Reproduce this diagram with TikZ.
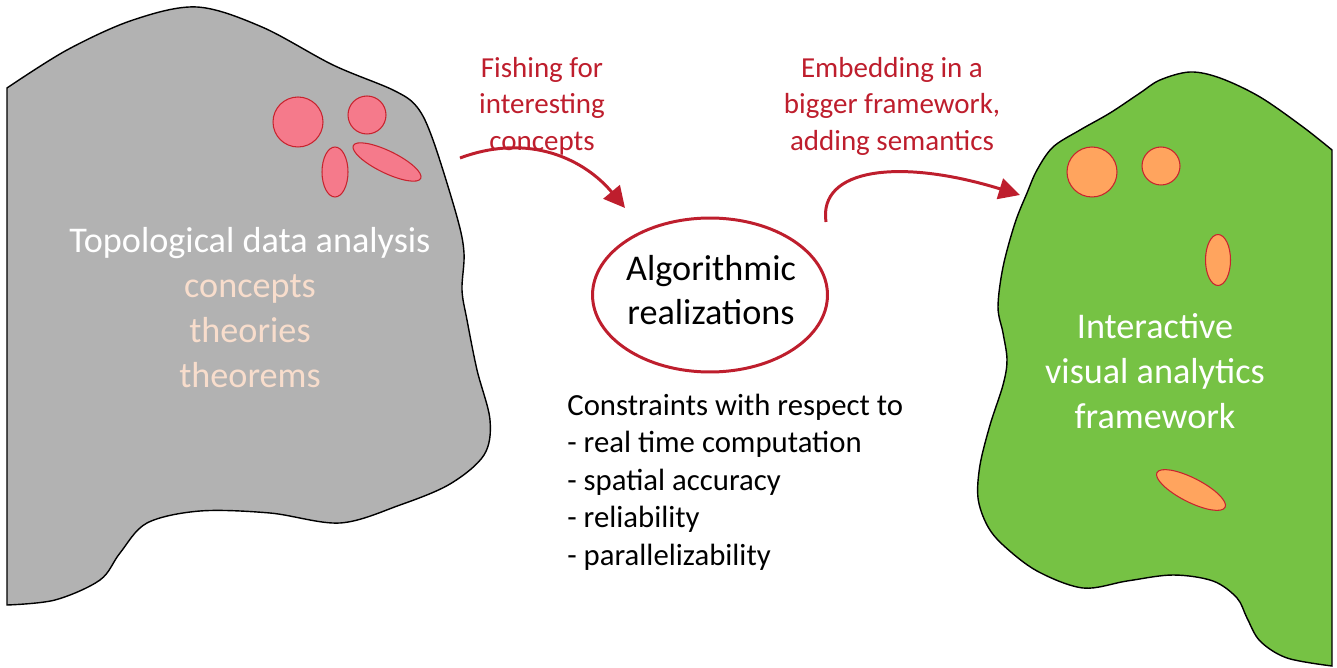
\documentclass[tikz,border=0pt]{standalone}
\usepackage{fontspec}
\setmainfont{Carlito}
\usetikzlibrary{arrows.meta, positioning, shapes.geometric}
\definecolor{tdagrey}{HTML}{B2B2B2}
\definecolor{ivagreen}{HTML}{76C244}
\definecolor{spotpink}{HTML}{F57A8B}
\definecolor{spotorange}{HTML}{FFA45E}
\definecolor{spotred}{HTML}{C8232E}
\definecolor{labelred}{HTML}{BE1E2D}
\definecolor{peach}{HTML}{F8DDCC}
\tikzstyle{blob} = [draw=black, line width=0.8pt]
\tikzstyle{spot} = [ellipse, draw=spotred, line width=0.6pt, inner sep=0pt]
\tikzstyle{blobtext} = [text=white, align=center, font=\fontsize{20.6}{25.6}\selectfont]
\tikzstyle{redtext} = [text=labelred, align=center, font=\fontsize{16.5}{20.8}\selectfont]
\tikzstyle{arrow} = [draw=labelred, line width=1.7pt, -{Triangle[length=12pt, width=12pt]}]

\begin{document}
\begin{tikzpicture}[x=0.02cm, y=-0.02cm]
\useasboundingbox (0,0) rectangle (1337,668);
% Blobs
\draw [blob, fill=tdagrey] plot [smooth, tension=0.55] coordinates {(7,88) (67,50) (133,20) (197,7) (262,27) (333,65) (393,90) (417,107) (433,140) (457,217) (464,253) (462,290) (467,320) (477,370) (490,420) (484,455) (450,484) (400,505) (340,523) (270,513) (200,511) (147,523) (120,553) (100,580) (55,600) (7,605)} -- cycle;
\draw [blob, fill=ivagreen] plot [smooth, tension=0.55] coordinates {(1332,150) (1303,127) (1260,97) (1220,78) (1190,72) (1160,80) (1140,93) (1110,113) (1080,130) (1053,147) (1037,170) (1027,193) (1015,223) (1003,267) (998,307) (1003,333) (1007,360) (1003,385) (990,425) (980,465) (978,498) (987,525) (1003,545) (1037,571) (1083,588) (1127,581) (1173,575) (1213,581) (1237,598) (1247,618) (1260,641) (1287,658) (1332,666)} -- cycle;

% Spots
\node (tdaspota) [spot, fill=spotpink, minimum width=1cm, minimum height=1cm] at (298,122) {};
\node (tdaspotb) [spot, fill=spotpink, minimum width=0.76cm, minimum height=0.76cm] at (367,115) {};
\node (tdaspotc) [spot, fill=spotpink, minimum width=0.52cm, minimum height=1cm] at (335,172) {};
\node (tdaspotd) [spot, fill=spotpink, minimum width=1.5cm, minimum height=0.44cm, rotate=-26] at (387,162) {};
\node (ivaspota) [spot, fill=spotorange, minimum width=1cm, minimum height=1cm] at (1092,172) {};
\node (ivaspotb) [spot, fill=spotorange, minimum width=0.76cm, minimum height=0.76cm] at (1161,166) {};
\node (ivaspotc) [spot, fill=spotorange, minimum width=0.5cm, minimum height=1.02cm] at (1218,260) {};
\node (ivaspotd) [spot, fill=spotorange, minimum width=1.53cm, minimum height=0.48cm, rotate=-27] at (1191,490) {};

% Nodes
\node (tda) [blobtext] at (250,308) {Topological data analysis\\\textcolor{peach}{concepts}\\\textcolor{peach}{theories}\\\textcolor{peach}{theorems}};
\node (iva) [blobtext] at (1155,371) {Interactive\\visual analytics\\framework};
\node (algo) [ellipse, draw=labelred, line width=1.7pt, minimum width=4.7cm, minimum height=3.08cm] at (710,295) {};
\node (algotext) [align=center, font=\fontsize{20.6}{25}\selectfont] at (711,290) {Algorithmic\\realizations};
\node (fishing) [redtext] at (542,106) {Fishing for\\interesting\\concepts};
\node (embedding) [redtext] at (892,106) {Embedding in a\\bigger framework,\\adding semantics};
\node (constraints) [anchor=west, inner sep=0pt, align=left, font=\fontsize{17.5}{21.4}\selectfont] at (567,482) {Constraints with respect to\\- real time computation\\- spatial accuracy\\- reliability\\- parallelizability};

% Connections
\coordinate (fishstart) at (460,158);
\coordinate (fishend) at (625,208);
\coordinate (embedstart) at (826,222);
\coordinate (embedend) at (1020,195);
\draw [arrow] (fishstart) .. controls (530,132) and (585,160) .. (fishend);
\draw [arrow] (embedstart) .. controls (818,168) and (900,158) .. (embedend);

\end{tikzpicture}
\end{document}
